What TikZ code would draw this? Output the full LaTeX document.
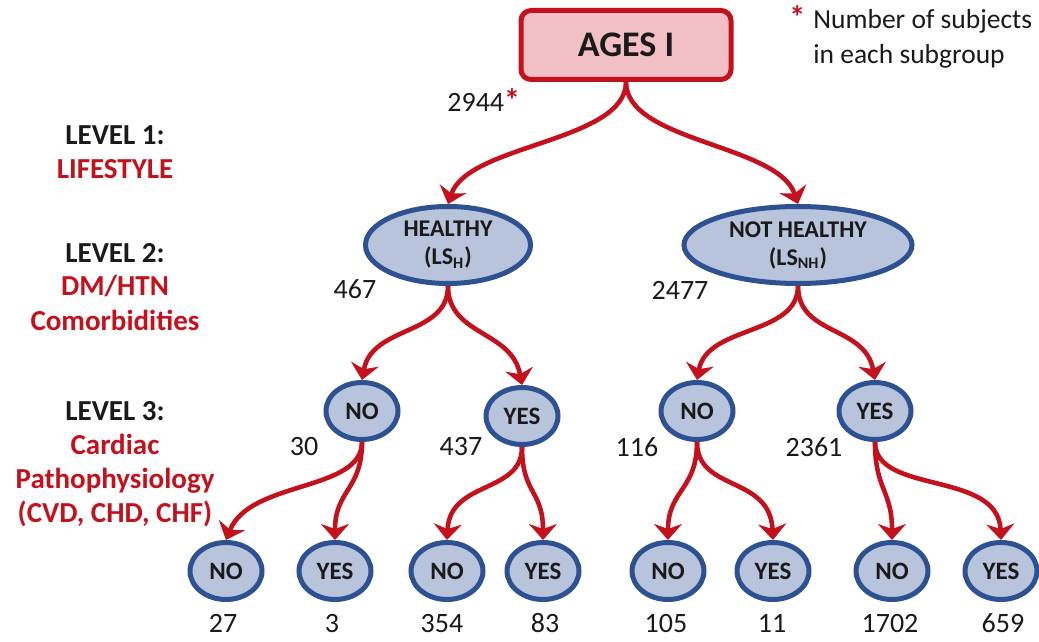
\documentclass[tikz,border=0pt]{standalone}
\usepackage{fontspec}
\setmainfont{Carlito}
\usetikzlibrary{arrows.meta,shapes.geometric}

\definecolor{agesred}{HTML}{C3121E}
\definecolor{boxpink}{HTML}{F2BFC4}
\definecolor{nodeblue}{HTML}{B8C3DC}
\definecolor{edgeblue}{HTML}{2E5191}
\definecolor{inkdark}{HTML}{1A1A1A}

\tikzset{
  rootbox/.style={draw=agesred, fill=boxpink, line width=2.5pt, rounded corners=5pt,
    minimum width=105pt, minimum height=34.5pt, inner sep=0pt,
    text=inkdark, font=\fontsize{18}{20}\selectfont\bfseries},
  lsnode/.style={ellipse, draw=edgeblue, fill=nodeblue, line width=2.5pt,
    minimum height=38.5pt, inner sep=0pt, align=center, text=inkdark,
    font=\fontsize{12}{14}\selectfont\bfseries},
  ynnode/.style={ellipse, draw=edgeblue, fill=nodeblue, line width=2.5pt,
    minimum width=36pt, minimum height=28.5pt, inner sep=0pt, text=inkdark,
    font=\fontsize{12.5}{14}\selectfont\bfseries},
  count/.style={anchor=base, inner sep=0pt, text=inkdark, font=\fontsize{14}{16}\selectfont},
  branch/.style={draw=agesred, line width=2.3pt,
    -{Stealth[length=8pt,width=14pt,inset=2.5pt]}},
  levelnote/.style={anchor=base, inner sep=0pt, text=inkdark,
    font=\fontsize{14.5}{17}\selectfont\bfseries},
}
\newcommand{\redstar}{\textcolor{agesred}{\bfseries*}}

\begin{document}
\begin{tikzpicture}[x=0.5pt, y=-0.5pt]
\useasboundingbox (0,0) rectangle (1039,642);

% ---- level descriptions on the left ----
\node[levelnote] (lvlone) at (115,145)
  {\begin{tabular}[t]{@{}c@{}}LEVEL 1:\\\textcolor{agesred}{LIFESTYLE}\end{tabular}};
\node[levelnote] (lvltwo) at (115,262)
  {\begin{tabular}[t]{@{}c@{}}LEVEL 2:\\\textcolor{agesred}{DM/HTN}\\\textcolor{agesred}{Comorbidities}\end{tabular}};
\node[levelnote] (lvlthree) at (115,420)
  {\begin{tabular}[t]{@{}c@{}}LEVEL 3:\\\textcolor{agesred}{Cardiac}\\\textcolor{agesred}{Pathophysiology}\\\textcolor{agesred}{(CVD, CHD, CHF)}\end{tabular}};

% ---- legend ----
\node[anchor=base west, inner sep=0pt, text=inkdark, font=\fontsize{13.75}{17.5}\selectfont] (legend) at (813,29)
  {\llap{{\fontsize{16}{17}\selectfont\redstar}\hspace{4pt}}\begin{tabular}[t]{@{}l@{}}Number of subjects\\in each subgroup\end{tabular}};

% ---- tree nodes ----
\node[rootbox] (ages) at (626,45) {AGES I};

\node[lsnode, minimum width=82.5pt] (lsh) at (448,245) {HEALTHY\\(LS\textsubscript{H})};
\node[lsnode, minimum width=114pt] (lsnh) at (798,245) {NOT HEALTHY\\(LS\textsubscript{NH})};

\node[ynnode] (hno)   at (362,411) {NO};
\node[ynnode] (hyes)  at (522,416) {YES};
\node[ynnode] (nhno)  at (697,411) {NO};
\node[ynnode] (nhyes) at (875,411) {YES};

\node[ynnode] (hnono)    at (226,571) {NO};
\node[ynnode] (hnoyes)   at (335,571) {YES};
\node[ynnode] (hyesno)   at (447,571) {NO};
\node[ynnode] (hyesyes)  at (543,571) {YES};
\node[ynnode] (nhnono)   at (668,571) {NO};
\node[ynnode] (nhnoyes)  at (773,571) {YES};
\node[ynnode] (nhyesno)  at (892,571) {NO};
\node[ynnode] (nhyesyes) at (1001,571) {YES};

% ---- subgroup sizes ----
\node[anchor=base west, inner sep=0pt, text=inkdark, font=\fontsize{14}{16}\selectfont] (nall) at (447,112)
  {2944{\fontsize{16}{17}\selectfont\redstar}};
\node[count] (cnt467)  at (355,298) {467};
\node[count] (cnt2477) at (680,299) {2477};
\node[count] (cnt30)   at (304,455) {30};
\node[count] (cnt437)  at (461,455) {437};
\node[count] (cnt116)  at (637,456) {116};
\node[count] (cnt2361) at (814,456) {2361};
\node[count] (cnt27)   at (223,632) {27};
\node[count] (cnt3)    at (332,632) {3};
\node[count] (cnt354)  at (442,632) {354};
\node[count] (cnt83)   at (545,632) {83};
\node[count] (cnt105)  at (666,632) {105};
\node[count] (cnt11)   at (772,632) {11};
\node[count] (cnt1702) at (890,632) {1702};
\node[count] (cnt659)  at (1003,632) {659};

% ---- branches ----
\draw[branch] (ages.south) .. controls +(0,60) and +(20,-60) .. (lsh.north);
\draw[branch] (ages.south) .. controls +(0,60) and +(-20,-60) .. (lsnh.north);

\draw[branch] (lsh.south) .. controls +(0,50) and +(10,-55) .. (hno.north);
\draw[branch] (lsh.south) .. controls +(0,50) and +(-10,-55) .. (hyes.north);
\draw[branch] (lsnh.south) .. controls +(0,50) and +(10,-55) .. (nhno.north);
\draw[branch] (lsnh.south) .. controls +(0,50) and +(-10,-55) .. (nhyes.north);

\draw[branch] (hno.south) .. controls +(0,50) and +(24,-60) .. (hnono.north);
\draw[branch] (hno.south) .. controls +(0,48) and +(0,-50) .. (hnoyes.north);
\draw[branch] (hyes.south) .. controls +(0,47) and +(3,-60) .. (hyesno.north);
\draw[branch] (hyes.south) .. controls +(0,47) and +(0,-50) .. (hyesyes.north);
\draw[branch] (nhno.south) .. controls +(0,48) and +(0,-50) .. (nhnono.north);
\draw[branch] (nhno.south) .. controls +(0,50) and +(-3,-65) .. (nhnoyes.north);
\draw[branch] (nhyes.south) .. controls +(0,48) and +(0,-50) .. (nhyesno.north);
\draw[branch] (nhyes.south) .. controls +(0,53) and +(-3,-70) .. (nhyesyes.north);
\end{tikzpicture}
\end{document}
